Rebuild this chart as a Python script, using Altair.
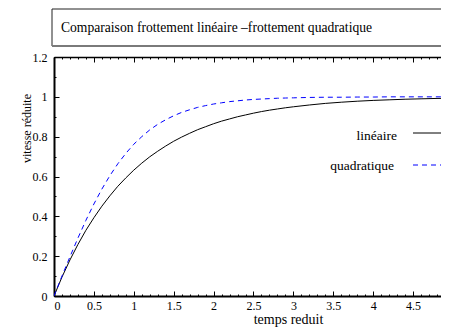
import altair as alt
import pandas as pd

# ---- data ----
t_vals = [0.0, 0.1, 0.2, 0.3, 0.4, 0.5, 0.6, 0.7, 0.8, 0.9, 1.0,
          1.1, 1.2, 1.3, 1.4, 1.5, 1.6, 1.7, 1.8, 1.9, 2.0,
          2.1, 2.2, 2.3, 2.4, 2.5, 2.6, 2.7, 2.8, 2.9, 3.0,
          3.2, 3.4, 3.6, 3.8, 4.0, 4.2, 4.4, 4.6, 4.8, 5.0]
lineaire = [0.0, 0.095, 0.181, 0.259, 0.330, 0.393, 0.451, 0.503, 0.551, 0.593, 0.632,
            0.667, 0.699, 0.727, 0.753, 0.777, 0.798, 0.817, 0.835, 0.850, 0.865,
            0.878, 0.889, 0.900, 0.909, 0.918, 0.926, 0.933, 0.939, 0.945, 0.950,
            0.959, 0.967, 0.973, 0.978, 0.982, 0.985, 0.988, 0.990, 0.992, 0.993]
quadratique = [0.0, 0.100, 0.197, 0.291, 0.380, 0.462, 0.537, 0.604, 0.664, 0.716, 0.762,
               0.800, 0.834, 0.862, 0.885, 0.905, 0.922, 0.935, 0.947, 0.956, 0.964,
               0.970, 0.976, 0.980, 0.984, 0.987, 0.989, 0.991, 0.993, 0.994, 0.995,
               0.997, 0.998, 0.998, 0.999, 0.999, 1.000, 1.000, 1.000, 1.000, 1.000]
x_major = [0, 0.5, 1, 1.5, 2, 2.5, 3, 3.5, 4, 4.5, 5]
x_minor = [0, 0.1, 0.2, 0.3, 0.4, 0.5, 0.6, 0.7, 0.8, 0.9, 1.0, 1.1, 1.2, 1.3, 1.4,
           1.5, 1.6, 1.7, 1.8, 1.9, 2.0, 2.1, 2.2, 2.3, 2.4, 2.5, 2.6, 2.7, 2.8, 2.9,
           3.0, 3.1, 3.2, 3.3, 3.4, 3.5, 3.6, 3.7, 3.8, 3.9, 4.0, 4.1, 4.2, 4.3, 4.4,
           4.5, 4.6, 4.7, 4.8, 4.9]
y_major = [0, 0.2, 0.4, 0.6, 0.8, 1.0, 1.2]
y_minor = [0, 0.1, 0.2, 0.3, 0.4, 0.5, 0.6, 0.7, 0.8, 0.9, 1.0, 1.1, 1.2]
legend_labels = ["linéaire", "quadratique"]
title_text = "Comparaison frottement linéaire –frottement quadratique"
x_title = "temps reduit"
y_title = "vitesse réduite"

df_lin = pd.DataFrame({"t": t_vals, "v": lineaire})
df_quad = pd.DataFrame({"t": t_vals, "v": quadratique})
one = pd.DataFrame({"a": [0]})

FONT = "Liberation Serif"
W, H = 387, 239
xscale = alt.Scale(domain=[0, 4.85], nice=False, zero=False)
yscale = alt.Scale(domain=[0, 1.2], nice=False, zero=False)


def tick_layer(chan, orient, values, size, offset):
    ax = alt.Axis(orient=orient, values=values, tickSize=size, offset=offset,
                  domain=False, labels=False, title=None, grid=False, ticks=True,
                  tickColor="black", tickWidth=1)
    if chan == "x":
        enc = dict(x=alt.X("t:Q", scale=xscale, axis=ax),
                   y=alt.Y("v:Q", scale=yscale, axis=None))
    else:
        enc = dict(x=alt.X("t:Q", scale=xscale, axis=None),
                   y=alt.Y("v:Q", scale=yscale, axis=ax))
    return alt.Chart(df_lin).mark_line(opacity=0).encode(**enc)


# title box
box = alt.Chart(one).mark_rect(fill="white", stroke="#222", strokeWidth=1).encode(
    x=alt.value(-2), x2=alt.value(420), y=alt.value(-48), y2=alt.value(-11))
box_shadow = alt.Chart(one).mark_rule(color="#7a7a7a", strokeWidth=2).encode(
    x=alt.value(-2), x2=alt.value(420), y=alt.value(-11))
box_text = alt.Chart(one).mark_text(
    text=title_text, font=FONT, fontSize=13.6, align="left", baseline="alphabetic",
    color="black").encode(x=alt.value(7), y=alt.value(-25))

# main curve with labelled axes
main = alt.Chart(df_lin).mark_line(color="black", strokeWidth=1, clip=True).encode(
    x=alt.X("t:Q", scale=xscale,
            axis=alt.Axis(orient="bottom", values=x_major[:-1], format=".1~f",
                          ticks=False, tickSize=0, labelPadding=4, labelBaseline="top",
                          domain=True, domainColor="black", domainWidth=2, grid=False,
                          labelFont=FONT, labelFontSize=12, labelColor="black",
                          title=x_title, titleX=234, titleY=27, titleBaseline="alphabetic",
                          titleAlign="center", titleFont=FONT, titleFontSize=14,
                          titleFontWeight="normal", titleColor="black")),
    y=alt.Y("v:Q", scale=yscale,
            axis=alt.Axis(orient="left", values=y_major, format=".1~f",
                          ticks=False, tickSize=0, labelPadding=7, labelBaseline="middle",
                          domain=True, domainColor="black", domainWidth=2, grid=False,
                          labelFont=FONT, labelFontSize=12, labelColor="black",
                          title=y_title, titleX=-24, titleY=71, titleBaseline="alphabetic",
                          titleAlign="center", titleAngle=270, titleFont=FONT,
                          titleFontSize=12, titleFontWeight="normal", titleColor="black")),
)
quad = alt.Chart(df_quad).mark_line(color="#0000ff", strokeWidth=1, strokeDash=[5, 4],
                                    clip=True).encode(
    x=alt.X("t:Q", scale=xscale, axis=None),
    y=alt.Y("v:Q", scale=yscale, axis=None))

top_border = alt.Chart(df_lin).mark_line(opacity=0).encode(
    x=alt.X("t:Q", scale=xscale,
            axis=alt.Axis(orient="top", domain=True, domainColor="black", domainWidth=1.5,
                          ticks=False, labels=False, title=None, grid=False)),
    y=alt.Y("v:Q", scale=yscale, axis=None))

ticks = [
    tick_layer("x", "top", x_minor, 2, -H),
    tick_layer("x", "top", x_major, 5, -H),
    tick_layer("x", "bottom", x_minor, 2, -H),
    tick_layer("x", "bottom", x_major, 5, -H),
    tick_layer("y", "right", y_minor, 2, -W),
    tick_layer("y", "right", y_major, 5, -W),
]

# legend (drawn by hand: labels left of samples)
leg_t1 = alt.Chart(one).mark_text(text=legend_labels[0], font=FONT, fontSize=13.5,
                                  align="right", baseline="alphabetic", color="black").encode(
    x=alt.value(343), y=alt.value(83))
leg_l1 = alt.Chart(one).mark_rule(color="black", strokeWidth=1).encode(
    x=alt.value(359), x2=alt.value(388), y=alt.value(76))
leg_t2 = alt.Chart(one).mark_text(text=legend_labels[1], font=FONT, fontSize=13.5,
                                  align="right", baseline="alphabetic", color="black").encode(
    x=alt.value(340), y=alt.value(113))
leg_l2 = alt.Chart(one).mark_rule(color="#0000ff", strokeWidth=1, strokeDash=[5, 4]).encode(
    x=alt.value(359), x2=alt.value(388), y=alt.value(108))

chart = alt.layer(
    box, box_shadow, box_text, main, quad, top_border, *ticks,
    leg_t1, leg_l1, leg_t2, leg_l2
).resolve_axis(x="independent", y="independent").properties(
    width=W, height=H,
    padding={"left": 46, "top": 49, "right": 0, "bottom": 31},
    autosize=alt.AutoSizeParams(type="none"),
    background="white",
).configure_view(stroke=None).configure_axis(
    labelFont=FONT, labelFontSize=12, labelColor="black",
    titleFont=FONT, titleFontSize=12, titleFontWeight="normal", titleColor="black",
)

chart.save("out.html", embed_options={"renderer": "svg", "actions": False})
